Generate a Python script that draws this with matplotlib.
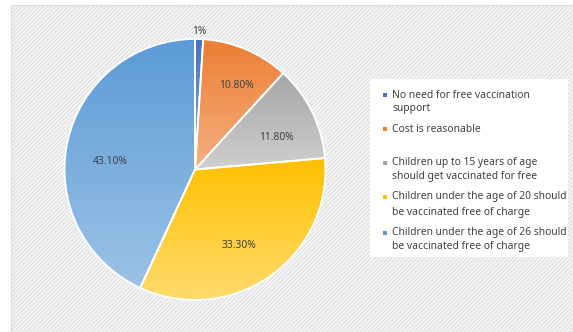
import matplotlib
matplotlib.use("Agg")
import matplotlib.pyplot as plt
import numpy as np
from matplotlib.colors import LinearSegmentedColormap
from matplotlib.patches import Rectangle

labels = [
    "No need for free vaccination\nsupport",
    "Cost is reasonable",
    "Children up to 15 years of age\nshould get vaccinated for free",
    "Children under the age of 20 should\nbe vaccinated free of charge",
    "Children under the age of 26 should\nbe vaccinated free of charge",
]
values = [1.0, 10.8, 11.8, 33.3, 43.1]
value_labels = ["1%", "10.80%", "11.80%", "33.30%", "43.10%"]
top_colors = ["#4472C4", "#ED7D31", "#A5A5A5", "#FFC000", "#5B9BD5"]
bottom_colors = ["#8FAADC", "#F4B183", "#CFCFCF", "#FFDB6E", "#9DC3E6"]

W, H = 573, 332
plt.rcParams['font.family'] = ['Noto Sans', 'DejaVu Sans']
fig = plt.figure(figsize=(W / 100, H / 100), dpi=100)
ax = fig.add_axes([0, 0, 1, 1])
plt.rcParams['hatch.color'] = '#dadada'
plt.rcParams['hatch.linewidth'] = 0.7

def py(y):
    return H - y

# background
bg = Rectangle((11, 0), W - 11, py(5), facecolor='#f5f5f5', edgecolor='#dddddd',
               hatch='////////', linewidth=0.8, zorder=0)
ax.add_patch(bg)

cx, cy, r = 195, py(169.5), 130.5
wedges, _ = ax.pie(values, center=(cx, cy), radius=r, startangle=90,
                   counterclock=False, frame=True,
                   wedgeprops=dict(edgecolor='white', linewidth=1.3))
for i, w in enumerate(wedges):
    w.set_facecolor('none')
    w.set_zorder(3)
    verts = w.get_path().vertices
    x0, x1 = verts[:, 0].min(), verts[:, 0].max()
    y0, y1 = verts[:, 1].min(), verts[:, 1].max()
    cmap = LinearSegmentedColormap.from_list('g', [bottom_colors[i], top_colors[i]])
    grad = np.linspace(0, 1, 256).reshape(-1, 1)
    im = ax.imshow(grad, cmap=cmap, origin='lower', aspect='auto',
                   extent=(x0, x1, y0, y1), zorder=2, interpolation='bilinear')
    im.set_clip_path(w)

label_pos = [(199, 31), (236, 85), (276, 137), (239, 245), (110, 161)]
for (x, y), t in zip(label_pos, value_labels):
    ax.text(x, py(y), t, ha='center', va='center', fontsize=7.4, color='#404040', zorder=5)

# legend
ax.add_patch(Rectangle((370, py(257)), 198, 257 - 79, facecolor='white',
                       edgecolor='none', zorder=4))
line_ys = [[95, 108], [129], [163, 177], [197, 212], [233, 246]]
for i, (lab, ys) in enumerate(zip(labels, line_ys)):
    ax.add_patch(Rectangle((383, py(ys[0]) - 1.5), 4, 4, facecolor=top_colors[i],
                           edgecolor='none', zorder=5))
    for line, y in zip(lab.split("\n"), ys):
        ax.text(392, py(y), line, ha='left', va='center', fontsize=7.4,
                color='#404040', zorder=5)

ax.set_xlim(0, W)
ax.set_ylim(0, H)
ax.set_aspect('auto')
ax.axis('off')
fig.savefig('out.png', dpi=100)
